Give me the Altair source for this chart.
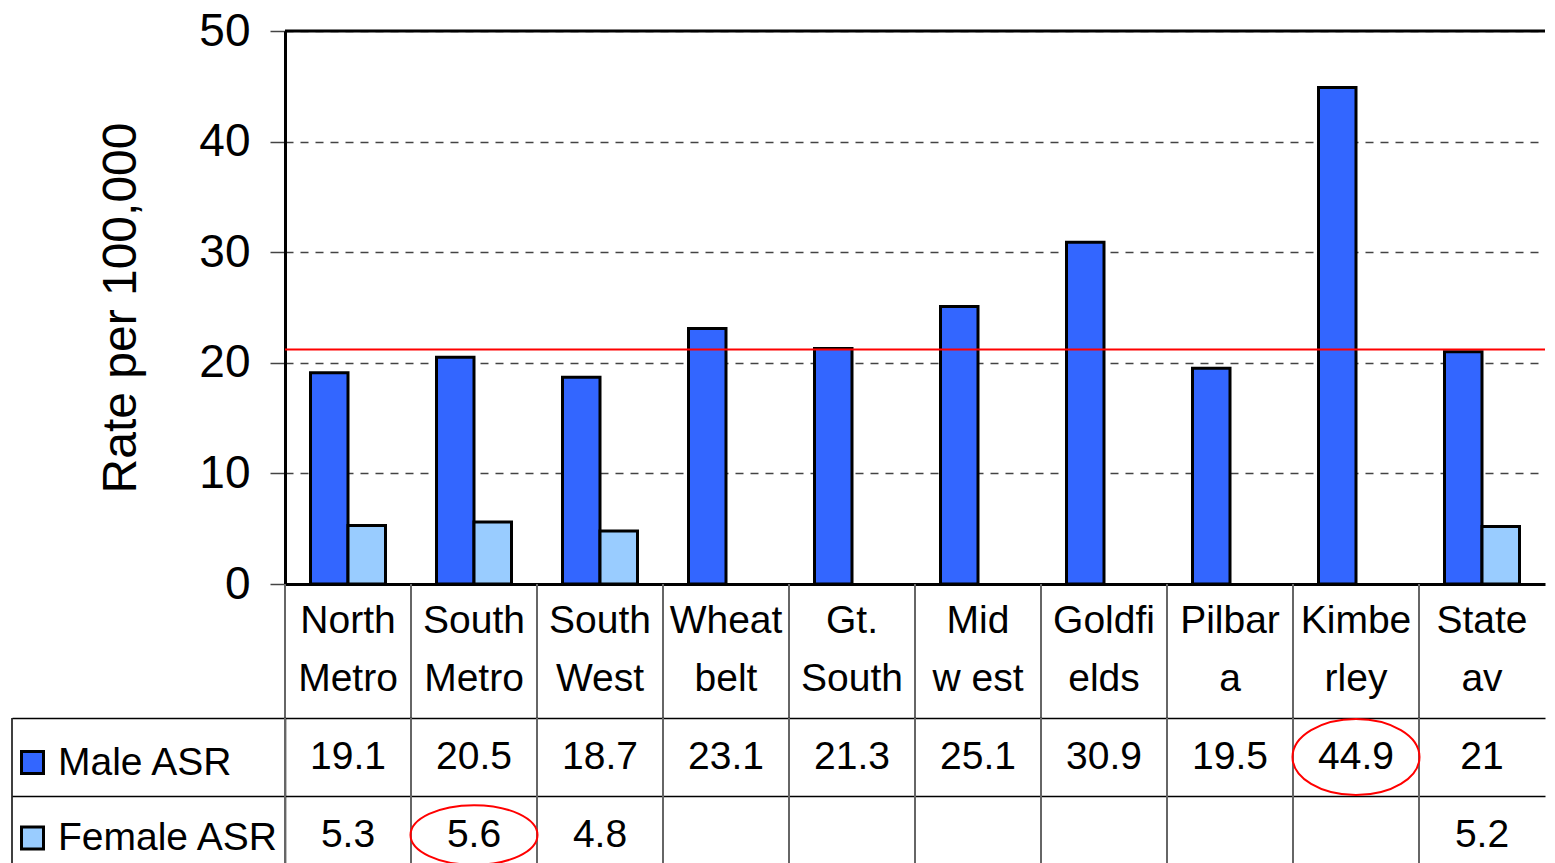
import altair as alt
import pandas as pd

# ---------------- data ----------------
categories = ["North\nMetro", "South\nMetro", "South\nWest", "Wheat\nbelt", "Gt.\nSouth",
              "Mid\nw est", "Goldfi\nelds", "Pilbar\na", "Kimbe\nrley", "State\nav"]
male_asr = [19.1, 20.5, 18.7, 23.1, 21.3, 25.1, 30.9, 19.5, 44.9, 21]
female_asr = [5.3, 5.6, 4.8, None, None, None, None, None, None, 5.2]
series_names = ["Male ASR", "Female ASR"]
series_colors = ["#3366FF", "#99CCFF"]
state_average_line = [21.2]
y_tick_values = [0, 10, 20, 30, 40, 50]
circled_cells = [("Kimbe\nrley", "Male ASR"), ("South\nMetro", "Female ASR")]

rows = []
for c, m, f in zip(categories, male_asr, female_asr):
    rows.append({"cat": c, "series": "Male ASR", "value": m})
    if f is not None:
        rows.append({"cat": c, "series": "Female ASR", "value": f})
df = pd.DataFrame(rows)
df["label"] = df["value"].map(lambda v: f"{v:g}")
cat_df = pd.DataFrame({"cat": categories})

circ_df = pd.DataFrame([{"cat": c, "series": s, "key": f"{i}"} for i, (c, s) in enumerate(circled_cells)])
ellipse_paths = ["M-1,0A1,0.6 0 1,1 1,0A1,0.6 0 1,1 -1,0Z",
                 "M-1,0A1,0.47 0 1,1 1,0A1,0.47 0 1,1 -1,0Z"]

# ---------------- layout constants ----------------
FONT = "Liberation Sans"
W = 1260
H = 553
HDR = 134
ROW = 78
LEFT = 273

x_scale = alt.Scale(domain=categories, paddingInner=0, paddingOuter=0)

# ---------------- bar chart ----------------
bars = alt.Chart(df).mark_bar(stroke="black", strokeWidth=3).encode(
    x=alt.X("cat:N", sort=categories, scale=x_scale, title=None,
            axis=alt.Axis(labelExpr="split(datum.label, '\\n')", labelFont=FONT, labelFontSize=39,
                          labelColor="black", labelLineHeight=58, labelAngle=0, labelBaseline="top",
                          labelAlign="center", labelPadding=17, labelOverlap=False,
                          ticks=False, domainColor="black", domainWidth=3)),
    xOffset=alt.XOffset("series:N", sort=series_names,
                        scale=alt.Scale(domain=series_names, paddingInner=0, paddingOuter=0.68)),
    y=alt.Y("value:Q", scale=alt.Scale(domain=[0, 50], nice=False),
            axis=alt.Axis(values=y_tick_values, title="Rate per 100,000", titleFont=FONT,
                          titleFontSize=48, titleFontWeight="normal", titleColor="black",
                          titleX=-140, titleY=H / 2, titleAlign="center", titleBaseline="bottom",
                          labelFont=FONT, labelFontSize=46, labelColor="black", labelPadding=20,
                          tickSize=15, tickColor="#444", tickWidth=1.5,
                          domainColor="black", domainWidth=3,
                          grid=True, gridColor="#444", gridDash=[8, 7], gridWidth=1.3)),
    color=alt.Color("series:N", scale=alt.Scale(domain=series_names, range=series_colors),
                    legend=alt.Legend(title=None, orient="none", legendX=-272, legendY=712,
                                      direction="vertical", padding=0,
                                      symbolType="square", symbolSize=484,
                                      symbolStrokeColor="black", symbolStrokeWidth=3,
                                      symbolOpacity=1, labelLimit=400,
                                      labelFont=FONT, labelFontSize=39, labelColor="black",
                                      labelOffset=6, rowPadding=35.5)),
)

ref_line = alt.Chart(pd.DataFrame({"v": state_average_line})).mark_rule(
    color="#FF0000", strokeWidth=2).encode(y=alt.Y("v:Q"))

top_border = alt.Chart(pd.DataFrame({"v": [y_tick_values[-1]]})).mark_rule(
    color="black", strokeWidth=3).encode(y=alt.Y("v:Q"))

header_lines = alt.Chart(cat_df).mark_rule(color="#666", strokeWidth=2).encode(
    x=alt.X("cat:N", sort=categories, scale=x_scale, bandPosition=0, title=None),
    y=alt.value(H), y2=alt.value(H + HDR))

top = alt.layer(bars, ref_line, top_border, header_lines).properties(
    width=W, height=H, view=alt.ViewBackground(stroke=None))

# ---------------- data table ----------------
x_col = alt.X("cat:N", sort=categories, scale=x_scale, title=None, axis=None)
y_row = alt.Y("series:N", sort=series_names,
              scale=alt.Scale(domain=series_names, paddingInner=0, paddingOuter=0), title=None,
              axis=alt.Axis(labels=False, ticks=True, tickBand="extent", tickSize=LEFT,
                            tickColor="black", tickWidth=1.5, domain=True, domainColor="black",
                            domainWidth=1.5, grid=True, gridColor="black", gridWidth=1.5))

cell_text = alt.Chart(df).mark_text(font=FONT, fontSize=39, color="black", baseline="middle").encode(
    x=x_col, y=y_row, text="label:N")

ellipses = alt.Chart(circ_df).mark_point(filled=False, color="#FF0000", strokeWidth=2,
                                         size=16129, opacity=1).encode(
    x=x_col, y=y_row,
    shape=alt.Shape("key:N", scale=alt.Scale(domain=["0", "1"], range=ellipse_paths), legend=None))

col_lines = alt.Chart(cat_df).mark_rule(color="#666", strokeWidth=2).encode(
    x=alt.X("cat:N", sort=categories, scale=x_scale, bandPosition=0, title=None, axis=None),
    y=alt.value(0), y2=alt.value(2 * ROW))

left_border = alt.Chart(pd.DataFrame({"a": [0]})).mark_rule(color="black", strokeWidth=1.5).encode(
    x=alt.value(-LEFT), y=alt.value(0), y2=alt.value(2 * ROW))

bottom = alt.layer(col_lines, cell_text, ellipses, left_border).properties(
    width=W, height=2 * ROW, view=alt.ViewBackground(stroke=None))

chart = alt.vconcat(top, bottom, spacing=HDR, bounds="flush").properties(
    padding={"left": 3, "top": 0, "right": 0, "bottom": 0}
).configure(font=FONT).resolve_scale(x="shared")

chart.save("out.html", embed_options={"renderer": "svg", "actions": False})
